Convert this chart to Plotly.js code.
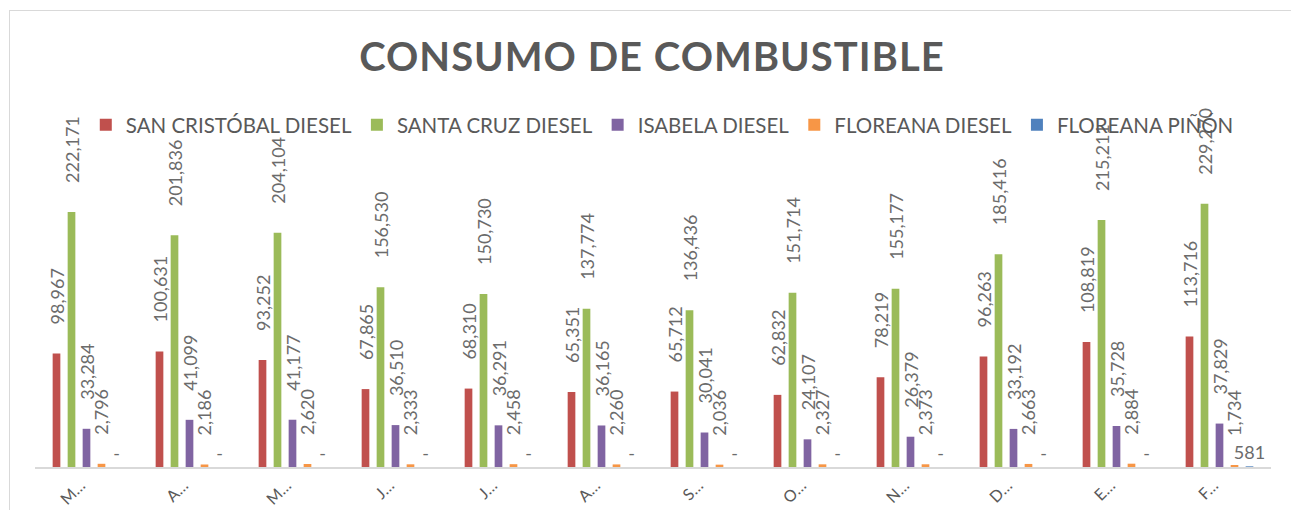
<!DOCTYPE html>
<html>
<head>
<meta charset="utf-8">
<script src="https://cdn.plot.ly/plotly-3.0.1.min.js"></script>
<style>
  html, body { margin: 0; padding: 0; background: #ffffff; }
  #wrap { position: relative; width: 1291px; height: 510px; overflow: hidden; }
  #frame { position: absolute; left: 9px; top: 10px; width: 1400px; height: 600px;
           border-left: 1px solid #d9d9d9; border-top: 1px solid #d9d9d9; pointer-events: none; }
  #chart { position: absolute; left: 0; top: 0; width: 1291px; height: 510px; }
  .gtitle { letter-spacing: 1px; }
</style>
</head>
<body>
<div id="wrap">
  <div id="chart"></div>
  <div id="frame"></div>
</div>
<script>
// ---- data ----
const categories = ["Marzo", "Abril", "Mayo", "Junio", "Julio", "Agosto", "Septiembre",
                    "Octubre", "Noviembre", "Diciembre", "Enero", "Febrero"];
const tickLabels = ["M…", "A…", "M…", "J…", "J…", "A…", "S…", "O…", "N…", "D…", "E…", "F…"];

const seriesNames = ["SAN CRISTÓBAL DIESEL", "SANTA CRUZ DIESEL", "ISABELA DIESEL",
                     "FLOREANA DIESEL", "FLOREANA PIÑÓN"];

const sanCristobalDiesel = [98967, 100631, 93252, 67865, 68310, 65351, 65712, 62832, 78219, 96263, 108819, 113716];
const santaCruzDiesel    = [222171, 201836, 204104, 156530, 150730, 137774, 136436, 151714, 155177, 185416, 215211, 229270];
const isabelaDiesel      = [33284, 41099, 41177, 36510, 36291, 36165, 30041, 24107, 26379, 33192, 35728, 37829];
const floreanaDiesel     = [2796, 2186, 2620, 2333, 2458, 2260, 2036, 2327, 2373, 2663, 2884, 1734];
const floreanaPinon      = [0, 0, 0, 0, 0, 0, 0, 0, 0, 0, 0, 581];

const seriesValues = [sanCristobalDiesel, santaCruzDiesel, isabelaDiesel, floreanaDiesel, floreanaPinon];
const seriesColors = ["#C0504D", "#9BBB59", "#8064A2", "#F79646", "#4F81BD"];

// ---- build ----
const PAD = "\u2800\u2800";
function fmt(v) { return v > 0 ? v.toLocaleString("en-US") : "-"; }

const traces = seriesValues.map((vals, i) => {
  const rotated = i < 4;
  return {
    type: "bar",
    name: seriesNames[i],
    x: categories,
    y: vals,
    marker: { color: seriesColors[i] },
    text: vals.map(v => rotated ? PAD + fmt(v) : fmt(v)),
    textposition: "outside",
    textangle: rotated ? -90 : 0,
    constraintext: "none",
    cliponaxis: false,
    textfont: { family: "Lato, 'Open Sans', sans-serif", size: 18, color: "#6b6b6b" },
    hoverinfo: "x+y+name"
  };
});

const layout = {
  width: 1291,
  height: 510,
  paper_bgcolor: "rgba(0,0,0,0)",
  plot_bgcolor: "rgba(0,0,0,0)",
  margin: { l: 35, r: 20, t: 180, b: 43 },
  title: {
    text: "CONSUMO DE COMBUSTIBLE",
    font: { family: "Lato, 'Open Sans', sans-serif", size: 40, weight: 700, color: "#595959" },
    x: 0.505, xanchor: "center", xref: "container",
    y: 0.888, yanchor: "middle", yref: "container"
  },
  showlegend: true,
  legend: {
    orientation: "h",
    xref: "container", yref: "container",
    x: 0.513, xanchor: "center",
    y: 0.755, yanchor: "middle",
    font: { family: "Lato, 'Open Sans', sans-serif", size: 20.5, color: "#595959" },
    itemwidth: 30,
    bgcolor: "rgba(0,0,0,0)"
  },
  barmode: "group",
  bargap: 0.272,
  bargroupgap: 0.487,
  xaxis: {
    type: "category",
    tickmode: "array",
    tickvals: categories,
    ticktext: tickLabels,
    tickangle: -45,
    tickfont: { family: "Lato, 'Open Sans', sans-serif", size: 16, color: "#595959" },
    showline: true,
    linecolor: "#d9d9d9",
    linewidth: 2,
    ticks: "",
    showgrid: false,
    zeroline: false,
    range: [-0.5, 11.5],
    ticklabelstandoff: 1,
    ticklabelshift: -6
  },
  yaxis: {
    range: [0, 250000],
    showticklabels: false,
    showgrid: false,
    zeroline: false,
    showline: false,
    ticks: ""
  }
};

Plotly.newPlot("chart", traces, layout, { displayModeBar: false, staticPlot: true });
</script>
</body>
</html>
